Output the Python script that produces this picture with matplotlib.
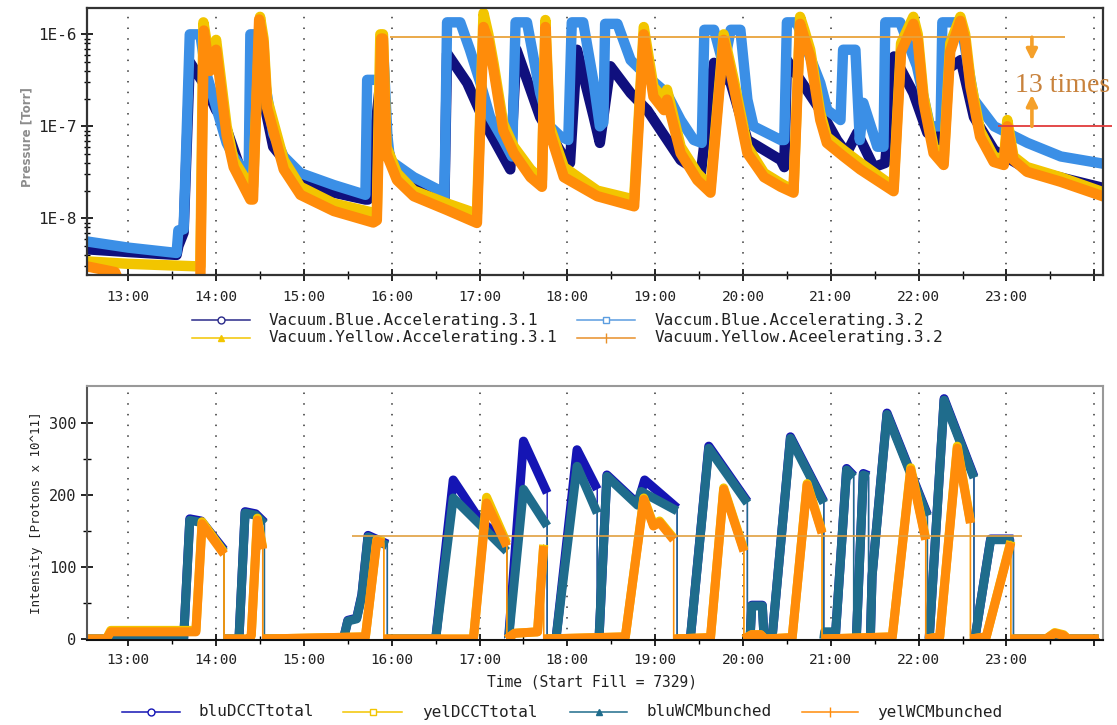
import matplotlib
matplotlib.use("Agg")
import matplotlib.pyplot as plt
import numpy as np
from matplotlib.lines import Line2D
from matplotlib.ticker import LogLocator, NullFormatter

# -----------------------------------
# DATA (time in hours of the day)
# -----------------------------------

hour_ticks = [13, 14, 15, 16, 17, 18, 19, 20, 21, 22, 23, 24]
hour_labels = ["13:00", "14:00", "15:00", "16:00", "17:00", "18:00",
               "19:00", "20:00", "21:00", "22:00", "23:00", ""]

p_ticks = [1e-8, 1e-7, 1e-6]
p_labels = ["1E-8", "1E-7", "1E-6"]
i_ticks = [0, 100, 200, 300]
i_minor = [50, 150, 250]

# Vacuum.Blue.Accelerating.3.1 [Torr]
b31_t = [12.53, 13.00, 13.55, 13.57, 13.63, 13.70, 13.85, 13.93, 14.00, 14.08,
         14.37, 14.40, 14.45, 14.65, 14.96, 15.34, 15.70, 15.73, 15.86, 15.95,
         16.02, 16.25, 16.55, 16.60, 16.63, 16.86, 17.08, 17.35, 17.42, 17.69,
         18.00, 18.03, 18.11, 18.30, 18.37, 18.49, 18.72, 18.91, 19.29, 19.52,
         19.67, 19.86, 20.05, 20.43, 20.47, 20.50, 20.88, 21.07, 21.18, 21.30,
         21.49, 21.62, 21.72, 21.94, 22.10, 22.25, 22.30, 22.48, 22.63, 22.86,
         23.24, 24.05]
b31_v = [4.6e-9, 4.3e-9, 4.0e-9, 5.0e-9, 7.0e-9, 5e-7, 3e-7, 2.1e-7, 1.5e-7, 1.2e-7,
         1.9e-8, 4e-7, 5e-7, 6e-8, 2.6e-8, 1.9e-8, 1.6e-8, 1.6e-8, 2.5e-7, 6e-8,
         3.4e-8, 2.4e-8, 1.7e-8, 1.6e-8, 6.2e-7, 2.95e-7, 1.0e-7, 3.4e-8, 6.8e-7, 1.26e-7,
         4.0e-8, 4.0e-8, 6.8e-7, 1.26e-7, 6.6e-8, 4.5e-7, 2.3e-7, 1.5e-7, 4.3e-8, 3.1e-8,
         4.9e-7, 2.95e-7, 7.1e-8, 4.3e-8, 3.6e-8, 5.25e-7, 1.5e-7, 7.1e-8, 5.1e-8, 8.5e-8,
         3.6e-8, 4.0e-8, 5.75e-7, 2.3e-7, 8.5e-8, 7.0e-8, 4.0e-7, 5.25e-7, 1.26e-7, 5.5e-8,
         3.4e-8, 2.2e-8]

# Vaccum.Blue.Accelerating.3.2 [Torr]
b32_t = [12.53, 13.00, 13.55, 13.57, 13.63, 13.70, 13.82, 13.88, 14.12, 14.20,
         14.37, 14.39, 14.46, 14.52, 14.65, 14.77, 14.96, 15.34, 15.70, 15.72,
         15.86, 15.91, 15.95, 15.98, 16.02, 16.25, 16.55, 16.60, 16.63, 16.78,
         16.89, 17.01, 17.12, 17.27, 17.37, 17.41, 17.54, 17.69, 17.80, 17.92,
         18.01, 18.05, 18.18, 18.30, 18.37, 18.41, 18.43, 18.57, 18.72, 18.91,
         19.13, 19.29, 19.44, 19.53, 19.56, 19.67, 19.78, 19.86, 19.97, 20.05,
         20.12, 20.43, 20.47, 20.50, 20.61, 20.88, 20.96, 21.11, 21.14, 21.28,
         21.33, 21.37, 21.53, 21.60, 21.62, 21.79, 21.98, 22.13, 22.25, 22.27,
         22.48, 22.63, 22.86, 23.01, 23.24, 23.62, 24.05]
b32_v = [5.6e-9, 4.8e-9, 4.2e-9, 7.4e-9, 7.6e-9, 1.0e-6, 1.0e-6, 4e-7, 6.6e-8, 4.7e-8,
         2.8e-8, 1.0e-6, 1.0e-6, 5e-7, 8.3e-8, 4.7e-8, 3.1e-8, 2.3e-8, 1.8e-8, 3.2e-7,
         3.2e-7, 5e-7, 8e-8, 4.3e-8, 4.0e-8, 2.8e-8, 2.0e-8, 1.74e-8, 1.35e-6, 1.35e-6,
         6.8e-7, 2.95e-7, 1.26e-7, 7.1e-8, 4.7e-8, 1.35e-6, 1.35e-6, 2.3e-7, 1.0e-7, 7.8e-8,
         7.1e-8, 1.35e-6, 1.35e-6, 2.95e-7, 1.0e-7, 1.1e-7, 1.3e-6, 1.3e-6, 5.25e-7, 3.5e-7,
         2.3e-7, 1.17e-7, 7.1e-8, 6.6e-8, 1.12e-6, 1.12e-6, 4.5e-7, 1.12e-6, 1.12e-6, 1.95e-7,
         1.0e-7, 7.1e-8, 7.1e-8, 1.35e-6, 1.35e-6, 2.95e-7, 1.5e-7, 1.17e-7, 6.8e-7, 6.8e-7,
         7.1e-8, 1.8e-7, 6.0e-8, 6.0e-8, 1.35e-6, 1.35e-6, 4.5e-7, 1.0e-7, 1.0e-7, 1.35e-6,
         1.35e-6, 1.95e-7, 1.0e-7, 8.5e-8, 6.6e-8, 4.7e-8, 4.0e-8]

# Vacuum.Yellow.Accelerating.3.1 [Torr]
y31_t = [12.53, 13.00, 13.80, 13.82, 13.855, 13.93, 14.00, 14.12, 14.20, 14.39,
         14.42, 14.50, 14.54, 14.58, 14.77, 14.96, 15.34, 15.79, 15.83, 15.87,
         15.90, 15.94, 16.06, 16.25, 16.63, 16.97, 17.045, 17.10, 17.16, 17.27,
         17.39, 17.58, 17.71, 17.75, 17.80, 17.96, 18.34, 18.76, 18.87, 18.98,
         19.10, 19.135, 19.29, 19.48, 19.63, 19.78, 19.895, 20.05, 20.24, 20.43,
         20.575, 20.65, 20.70, 20.765, 20.88, 20.955, 21.145, 21.335, 21.715, 21.80,
         21.94, 21.99, 22.057, 22.17, 22.285, 22.36, 22.475, 22.53, 22.59, 22.70,
         22.855, 22.97, 23.01, 23.08, 23.235, 23.615, 24.05]
y31_v = [3.4e-9, 3.2e-9, 3.0e-9, 3.0e-9, 1.35e-6, 5e-7, 8.7e-7, 1.0e-7, 4.3e-8, 2.2e-8,
         2.2e-8, 1.55e-6, 9e-7, 2.0e-7, 4.3e-8, 2.2e-8, 1.45e-8, 1.15e-8, 1.2e-8, 1.0e-6,
         1.0e-6, 6e-8, 3.1e-8, 2.0e-8, 1.45e-8, 1.12e-8, 1.7e-6, 1.0e-6, 4.8e-7, 1.07e-7,
         6e-8, 3.4e-8, 2.6e-8, 1.43e-6, 1.0e-7, 3.6e-8, 2.0e-8, 1.6e-8, 1.2e-6, 2.7e-7,
         1.95e-7, 2.5e-7, 6e-8, 3.1e-8, 2.2e-8, 1.0e-6, 3.2e-7, 6e-8, 3.1e-8, 2.4e-8,
         2.0e-8, 1.55e-6, 1.1e-6, 6.8e-7, 1.4e-7, 7.7e-8, 5.5e-8, 4e-8, 2.2e-8, 8e-7,
         1.55e-6, 1.0e-6, 2.1e-7, 6e-8, 4.3e-8, 8e-7, 1.55e-6, 1.0e-6, 3.2e-7, 9e-8,
         4.7e-8, 4.3e-8, 1.17e-7, 4.7e-8, 3.6e-8, 2.8e-8, 2.0e-8]

# Vacuum.Yellow.Aceelerating.3.2 [Torr]
y32_t = [12.53, 12.85, 12.90, 13.82, 13.86, 13.93, 14.00, 14.12, 14.20, 14.39,
         14.42, 14.49, 14.54, 14.58, 14.77, 14.96, 15.34, 15.79, 15.83, 15.88,
         15.90, 15.94, 16.06, 16.25, 16.63, 16.97, 17.045, 17.10, 17.16, 17.27,
         17.39, 17.58, 17.71, 17.75, 17.80, 17.96, 18.34, 18.76, 18.87, 18.98,
         19.10, 19.135, 19.29, 19.48, 19.63, 19.78, 19.895, 20.05, 20.24, 20.43,
         20.575, 20.65, 20.70, 20.765, 20.88, 20.955, 21.145, 21.335, 21.715, 21.80,
         21.94, 21.99, 22.057, 22.17, 22.285, 22.36, 22.475, 22.53, 22.59, 22.70,
         22.855, 22.97, 23.01, 23.08, 23.235, 23.615, 24.05]
y32_v = [3.0e-9, 2.6e-9, 2.0e-9, 2.0e-9, 1.1e-6, 4e-7, 6.8e-7, 8e-8, 3.6e-8, 1.6e-8,
         1.6e-8, 1.45e-6, 8e-7, 1.6e-7, 3.4e-8, 1.8e-8, 1.2e-8, 9e-9, 9.5e-9, 9e-7,
         9e-7, 5e-8, 2.6e-8, 1.74e-8, 1.23e-8, 8.9e-9, 1.2e-6, 8.5e-7, 4.1e-7, 9e-8,
         5.1e-8, 2.8e-8, 2.2e-8, 1.2e-6, 8.5e-8, 2.8e-8, 1.74e-8, 1.35e-8, 1.0e-6, 2.1e-7,
         1.5e-7, 1.95e-7, 5.1e-8, 2.6e-8, 1.9e-8, 8.7e-7, 2.7e-7, 5.1e-8, 2.8e-8, 2.2e-8,
         1.9e-8, 1.3e-6, 9e-7, 5.75e-7, 1.17e-7, 6.6e-8, 4.7e-8, 3.4e-8, 1.97e-8, 6.5e-7,
         1.3e-6, 8.5e-7, 1.8e-7, 5.1e-8, 3.8e-8, 6.5e-7, 1.4e-6, 8.5e-7, 2.7e-7, 7.7e-8,
         4.1e-8, 3.8e-8, 1.0e-7, 4.3e-8, 3.2e-8, 2.5e-8, 1.8e-8]

# bluDCCTtotal [1e11 protons]
blu_dcct_t = [12.53, 13.63, 13.70, 13.83, 14.09, 14.09, 14.26, 14.33, 14.45, 14.55,
              14.55, 15.45, 15.50, 15.60, 15.66, 15.73, 15.95, 15.95, 16.50, 16.70,
              17.01, 17.31, 17.31, 17.33, 17.50, 17.77, 17.77, 17.87, 18.11, 18.34,
              18.34, 18.36, 18.45, 18.80, 18.88, 19.25, 19.25, 19.40, 19.61, 20.05,
              20.05, 20.08, 20.10, 20.22, 20.24, 20.33, 20.54, 20.92, 20.92, 21.05,
              21.18, 21.26, 21.26, 21.29, 21.37, 21.43, 21.43, 21.45, 21.47, 21.64,
              22.10, 22.10, 22.12, 22.29, 22.63, 22.63, 22.64, 22.82, 23.08, 23.08,
              24.05]
blu_dcct_v = [0, 0, 167, 164, 124, 0, 0, 177, 174, 162,
              0, 0, 26, 29, 62, 144, 132, 0, 0, 221,
              164, 134, 0, 0, 275, 203, 0, 0, 263, 208,
              0, 0, 228, 188, 221, 182, 0, 0, 268, 191,
              0, 0, 47, 47, 0, 0, 281, 191, 0, 0,
              237, 227, 0, 0, 230, 227, 0, 0, 88, 314,
              173, 0, 0, 334, 226, 0, 0, 139, 139, 0,
              0]

# bluWCMbunched
blu_wcm_t = [12.53, 13.63, 13.70, 13.83, 14.09, 14.09, 14.26, 14.33, 14.45, 14.55,
             14.55, 15.45, 15.50, 15.60, 15.66, 15.73, 15.95, 15.95, 16.50, 16.70,
             17.31, 17.31, 17.33, 17.50, 17.77, 17.77, 17.87, 18.11, 18.34, 18.34,
             18.36, 18.45, 18.80, 18.84, 19.25, 19.25, 19.40, 19.61, 20.05, 20.05,
             20.08, 20.10, 20.22, 20.24, 20.33, 20.54, 20.92, 20.92, 20.93, 20.99,
             21.00, 21.05, 21.18, 21.26, 21.26, 21.29, 21.37, 21.43, 21.43, 21.45,
             21.47, 21.64, 22.10, 22.10, 22.12, 22.29, 22.63, 22.63, 22.64, 22.82,
             23.08, 23.08, 24.05]
blu_wcm_v = [0, 0, 165, 162, 122, 0, 0, 175, 172, 160,
             0, 0, 25, 28, 60, 142, 130, 0, 0, 196,
             122, 0, 0, 208, 157, 0, 0, 240, 175, 0,
             0, 226, 186, 205, 178, 0, 0, 265, 189, 0,
             0, 46, 46, 0, 0, 279, 189, 0, 10, 10,
             0, 0, 235, 225, 0, 0, 228, 225, 0, 0,
             87, 312, 171, 0, 0, 332, 224, 0, 0, 138,
             138, 0, 0]

# yelDCCTtotal / yelWCMbunched (same sampling times)
yel_t = [12.53, 12.75, 12.80, 13.77, 13.84, 14.09, 14.09, 14.38, 14.40, 14.47,
         14.53, 14.53, 15.70, 15.83, 15.91, 15.91, 16.93, 17.08, 17.31, 17.31,
         17.40, 17.66, 17.73, 17.73, 18.66, 18.87, 18.98, 19.05, 19.21, 19.21,
         19.63, 19.78, 20.01, 20.01, 20.10, 20.20, 20.25, 20.56, 20.73, 20.90,
         20.90, 21.70, 21.91, 22.08, 22.08, 22.24, 22.44, 22.59, 22.59, 22.77,
         23.05, 23.05, 23.45, 23.55, 23.65, 23.70, 24.05]
yel_dcct_v = [0, 0, 12, 12, 163, 120, 0, 0, 5, 168,
              127, 0, 3, 138, 135, 0, 0, 197, 133, 0,
              8, 10, 131, 0, 3, 196, 159, 164, 140, 0,
              2, 210, 124, 0, 6, 6, 0, 2, 216, 149,
              0, 3, 238, 140, 0, 3, 268, 163, 0, 3,
              136, 0, 0, 9, 6, 0, 0]
yel_wcm_v = [0, 0, 10, 10, 160, 118, 0, 0, 5, 165,
             125, 0, 3, 136, 133, 0, 0, 189, 129, 0,
             8, 10, 129, 0, 3, 194, 157, 162, 138, 0,
             2, 208, 122, 0, 6, 6, 0, 2, 214, 147,
             0, 3, 235, 138, 0, 3, 265, 161, 0, 3,
             134, 0, 0, 8, 5, 0, 0]

# -----------------------------------
# STYLE
# -----------------------------------

W, H = 1117, 725
NAVY = "#10107e"
LIGHTBLUE = "#3b8fe6"
YELLOW = "#f2c500"
ORANGE = "#ff8c0a"
DCCT_BLUE = "#1515b4"
TEAL = "#1f6c8c"

plt.rcParams["font.family"] = ["DejaVu Sans Mono", "DejaVu Sans"]


def band_xy(t, v):
    # break the thick band at vertical beam dumps (repeated time stamps)
    xs, ys = [], []
    for i in range(len(t)):
        if i > 0 and t[i] == t[i - 1]:
            xs.append(np.nan)
            ys.append(np.nan)
        xs.append(t[i])
        ys.append(v[i])
    return xs, ys


def style_time_axis(ax, fs):
    ax.set_xlim(12.526, 24.10)
    ax.set_xticks(hour_ticks)
    ax.set_xticklabels(hour_labels, fontsize=fs, color="#222222")
    ax.set_xticks(np.array(hour_ticks[:-1]) + 0.5, minor=True)
    for h in hour_ticks:
        ax.axvline(h, color="#333333", lw=1.1, linestyle=(0, (1, 6)), zorder=0.5)
    ax.tick_params(which="major", direction="inout", length=8, width=1.2)
    ax.tick_params(which="minor", direction="inout", length=6, width=1.0)


fig = plt.figure(figsize=(W / 100, H / 100), dpi=100)

# -----------------------------------
# TOP: PRESSURE
# -----------------------------------

ax1 = fig.add_axes([0.0776, 0.6207, 0.9099, 0.3679])
ax1.set_yscale("log")

for t, v, c in [(b31_t, b31_v, NAVY), (b32_t, b32_v, LIGHTBLUE),
                (y31_t, y31_v, YELLOW), (y32_t, y32_v, ORANGE)]:
    ax1.plot(t, v, color=c, lw=7.5, solid_joinstyle="round", zorder=2)

ax1.set_ylim(2.42e-9, 1.92e-6)
ax1.set_yticks(p_ticks)
ax1.set_yticklabels(p_labels, fontsize=11.5, color="#222222")
ax1.yaxis.set_minor_locator(LogLocator(base=10, subs=np.arange(2, 10)))
ax1.yaxis.set_minor_formatter(NullFormatter())
style_time_axis(ax1, 10.4)
ax1.tick_params(axis="x", which="major", pad=7)
ax1.tick_params(axis="y", which="minor", direction="inout", length=4)
for s in ax1.spines.values():
    s.set_color("#333333")
    s.set_linewidth(1.6)

# annotation: 13 times
ax1.hlines(9.3e-7, 15.98, 23.67, color="#e8a33c", lw=1.3, zorder=5)
ax1.hlines(1.0e-7, 22.9, 24.2, color="#e03a3a", lw=1.3, zorder=5, clip_on=False)
arrow = dict(arrowstyle="-|>", color="#f5a02a", lw=2.6, mutation_scale=16,
             shrinkA=0, shrinkB=0)
ax1.annotate("", xy=(23.29, 5.2e-7), xytext=(23.29, 9.3e-7), arrowprops=arrow, zorder=6)
ax1.annotate("", xy=(23.29, 2.2e-7), xytext=(23.29, 1.0e-7), arrowprops=arrow, zorder=6)
ax1.text(23.64, 2.8e-7, "13 times", family="Liberation Serif", fontsize=20,
         color="#c8823c", ha="center", va="center", zorder=6)

fig.text(27 / W, 1 - 137 / H, "Pressure [Torr]", rotation=90, family="DejaVu Sans",
         weight="bold", color="#8c8c8c", fontsize=8.5, ha="center", va="center")

# -----------------------------------
# BOTTOM: INTENSITY
# -----------------------------------

ax2 = fig.add_axes([0.0776, 0.1166, 0.9099, 0.3514])

for t, v, c in [(blu_dcct_t, blu_dcct_v, DCCT_BLUE), (blu_wcm_t, blu_wcm_v, TEAL),
                (yel_t, yel_dcct_v, YELLOW), (yel_t, yel_wcm_v, ORANGE)]:
    ax2.plot(t, v, color=c, lw=1.0, zorder=2)
    bx, by = band_xy(t, v)
    ax2.plot(bx, by, color=c, lw=6.5, solid_capstyle="butt", solid_joinstyle="round", zorder=2)

ax2.hlines(142.5, 15.545, 23.18, color="#e0a040", lw=1.2, zorder=5)

ax2.set_ylim(-2, 352)
ax2.set_yticks(i_ticks)
ax2.set_yticklabels([str(v) for v in i_ticks], fontsize=11, color="#222222")
ax2.set_yticks(i_minor, minor=True)
style_time_axis(ax2, 10.4)
ax2.tick_params(axis="x", which="major", pad=5)
ax2.spines["top"].set_color("#999999")
ax2.spines["right"].set_color("#999999")
ax2.spines["left"].set_color("#555555")
ax2.spines["bottom"].set_color("#111111")
for s in ax2.spines.values():
    s.set_linewidth(1.5)

fig.text(37 / W, 1 - 513 / H, "Intensity [Protons x 10^11]", rotation=90,
         fontsize=9, color="#222222", ha="center", va="center")
fig.text(592 / W, 1 - 682 / H, "Time (Start Fill = 7329)", fontsize=10.5,
         color="#222222", ha="center", va="center")

# -----------------------------------
# LEGENDS (drawn by hand to match the layout)
# -----------------------------------


def legend_entry(x0, x1, xt, y, label, color, marker, mfc, ms=5):
    xm = (x0 + x1) / 2
    fig.add_artist(Line2D([x0 / W, xm / W, x1 / W], [1 - y / H] * 3,
                          transform=fig.transFigure, color=color, lw=1.1,
                          marker=marker, markevery=[1], mfc=mfc, mec=color, ms=ms))
    fig.text(xt / W, 1 - y / H, label, fontsize=11.5, color="#222222",
             ha="left", va="center")


legend_entry(192, 250, 269, 320, "Vacuum.Blue.Accelerating.3.1", "#2a2a8a", "o", "white")
legend_entry(192, 250, 269, 338, "Vacuum.Yellow.Accelerating.3.1", YELLOW, "^", YELLOW)
legend_entry(577, 635, 655, 320, "Vaccum.Blue.Accelerating.3.2", "#5b9de0", "s", "white")
legend_entry(577, 635, 655, 338, "Vacuum.Yellow.Aceelerating.3.2", "#e8902a", "|", ORANGE, 7)

legend_entry(122, 180, 198, 712, "bluDCCTtotal", DCCT_BLUE, "o", "white")
legend_entry(343, 402, 422, 712, "yelDCCTtotal", YELLOW, "s", "white")
legend_entry(570, 627, 647, 712, "bluWCMbunched", TEAL, "^", TEAL)
legend_entry(802, 858, 877, 712, "yelWCMbunched", ORANGE, "|", ORANGE, 7)

fig.savefig("out.png", dpi=100)
